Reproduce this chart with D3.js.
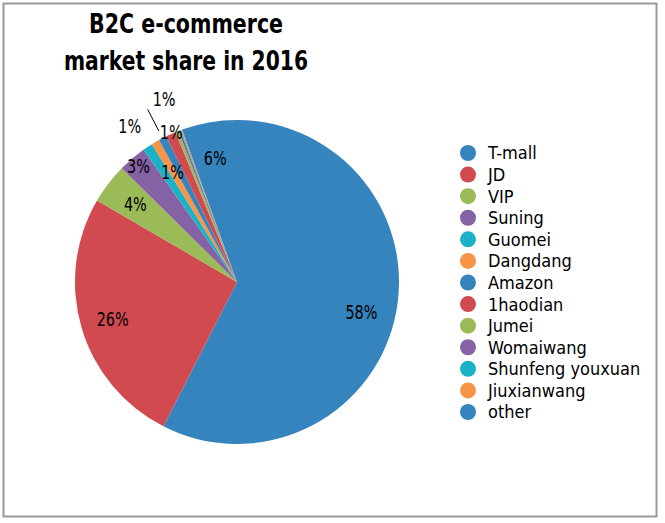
<!DOCTYPE html>
<html>
<head>
<meta charset="utf-8">
<script src="https://cdn.jsdelivr.net/npm/d3@7"></script>
<style>
  html, body { margin: 0; padding: 0; background: #fff; }
  svg { display: block; }
</style>
</head>
<body>
<svg width="665" height="523"></svg>
<script>
// data (percent of B2C market, 2016)
const companies = ['T-mall', 'JD', 'VIP', 'Suning', 'Guomei', 'Dangdang', 'Amazon',
  '1haodian', 'Jumei', 'Womaiwang', 'Shunfeng youxuan', 'Jiuxianwang', 'other'];
const shares = [57.5, 25.9, 4.0, 2.8, 1.0, 0.8, 0.8, 1.0, 0.3, 0.2, 0.1, 0.1, 5.5];
const titleLines = ['B2C e-commerce', 'market share in 2016'];

// colours repeat every 6 slices, like the office palette
const palette = ['#3584bd', '#d04a50', '#9bbb59', '#8462a4', '#1bb2c8', '#f79446'];

// label placement: radius factor and angle shift (deg), null = no label
const labelR = [0.79, 0.8, 0.79, 0.94, 1.17, 0.79, 1.22, 1.01, null, null, null, null, 0.78];
const labelShift = [0, 0, 0, 0, -1, 0, 5.7, 0.4, 0, 0, 0, 0, 0];

const svg = d3.select('svg'),
  cx = 237, cy = 282, R = 162;

// border
svg.append('rect')
  .attr('x', 3.5).attr('y', 3.5)
  .attr('width', 653).attr('height', 513)
  .attr('fill', '#fff')
  .attr('stroke', '#999').attr('stroke-width', 2);

// title (font is a condensed bold, squeeze to the original widths)
const titleWidth = [194, 244];
svg.selectAll('text.title')
  .data(titleLines)
  .join('text')
  .attr('class', 'title')
  .attr('x', 186)
  .attr('y', (d, i) => 33 + i * 37)
  .attr('text-anchor', 'middle')
  .attr('textLength', (d, i) => titleWidth[i])
  .attr('lengthAdjust', 'spacingAndGlyphs')
  .style('font-family', '"DejaVu Sans Condensed", sans-serif')
  .style('font-weight', 'bold')
  .style('font-size', '26px')
  .attr('fill', '#000')
  .text(d => d);

const color = d3.scaleOrdinal().domain(companies).range(companies.map((c, i) => palette[i % 6]));

const pie = d3.pie().sort(null).value(d => d.v);
const arcs = pie(companies.map((c, i) => ({name: c, v: shares[i], i})));
const arc = d3.arc().innerRadius(0).outerRadius(R);

const g = svg.append('g').attr('transform', `translate(${cx},${cy})`);

g.selectAll('path')
  .data(arcs)
  .join('path')
  .attr('d', arc)
  .attr('fill', d => color(d.data.name));

function labelPos(d) {
  let a = (d.startAngle + d.endAngle) / 2 + labelShift[d.data.i] * Math.PI / 180;
  let r = labelR[d.data.i] * R;
  return [Math.sin(a) * r, -Math.cos(a) * r];
}

// leader line for the Amazon label
const amazon = arcs[6];
const am = (amazon.startAngle + amazon.endAngle) / 2;
g.append('line')
  .attr('x1', Math.sin(am) * R * 1.05).attr('y1', -Math.cos(am) * R * 1.05)
  .attr('x2', Math.sin(am) * R * 1.2).attr('y2', -Math.cos(am) * R * 1.2)
  .attr('stroke', '#000').attr('stroke-width', 1);

g.selectAll('text.lbl')
  .data(arcs.filter(d => labelR[d.data.i] != null))
  .join('text')
  .attr('class', 'lbl')
  .attr('transform', d => `translate(${labelPos(d)}) scale(0.8,1)`)
  .attr('dy', '0.36em')
  .attr('text-anchor', 'middle')
  .style('font-family', '"DejaVu Sans Condensed", sans-serif')
  .style('font-size', '20px')
  .attr('fill', '#000')
  .text(d => Math.round(d.data.v) + '%');

// legend
const ly = d3.scalePoint().domain(companies).range([153, 412]);
const legend = svg.append('g');
const item = legend.selectAll('g')
  .data(companies)
  .join('g')
  .attr('transform', d => `translate(468,${ly(d)})`);
item.append('circle')
  .attr('r', 8)
  .attr('fill', d => color(d));
item.append('text')
  .attr('x', 20)
  .attr('dy', '0.36em')
  .style('font-family', '"DejaVu Sans Condensed", sans-serif')
  .style('font-size', '18px')
  .attr('fill', '#000')
  .text(d => d);
</script>
</body>
</html>
